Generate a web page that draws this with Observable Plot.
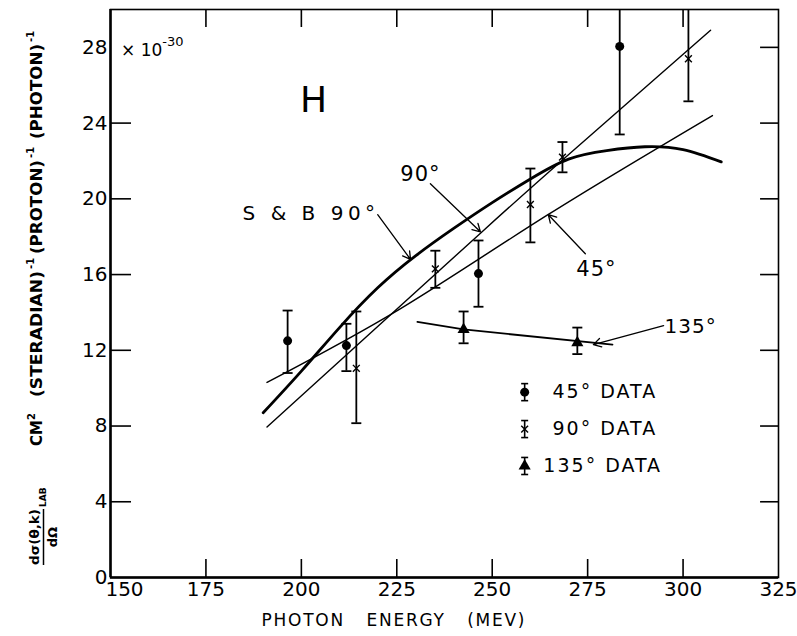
<!DOCTYPE html>
<html><head><meta charset="utf-8">
<script src="https://cdn.jsdelivr.net/npm/d3@7"></script>
<script src="https://cdn.jsdelivr.net/npm/@observablehq/plot@0.6"></script>
<style>body{margin:0;background:#fff}</style>
</head><body><div id="chart"></div>
<script>
// axis ticks
const xTicks = [175, 200, 225, 250, 275, 300, 325];
const xFirstTick = [150];
const xInnerTicks = [175, 200, 225, 250, 275, 300];
const yTicks = [0, 4, 8, 12, 16, 20, 24, 28];
const yLeftTicks = [4, 8, 12, 16, 20, 24];
const yRightTicks = [4, 8, 12, 16, 20, 24, 28];

// data points (photon energy MeV, cross section x1e-30)
const e45 = [196.4, 211.8, 246.4, 283.4];
const v45 = [12.5, 12.25, 16.05, 28.05];
const lo45 = [10.8, 10.9, 14.3, 23.4];
const hi45 = [14.1, 13.4, 17.8, 31];

const e90 = [214.4, 235.1, 260.0, 268.4, 301.4];
const v90 = [11.05, 16.3, 19.7, 22.2, 27.4];
const lo90 = [8.15, 15.3, 17.7, 21.4, 25.15];
const hi90 = [14.05, 17.26, 21.6, 23.0, 31];

const e135 = [242.5, 272.3];
const v135 = [13.1, 12.4];
const lo135 = [12.37, 11.8];
const hi135 = [14.05, 13.2];

// curves
const sbE = [190, 200, 210, 220, 230, 240, 250, 260, 270, 280, 290, 300, 310];
const sbV = [8.7, 10.9, 13.2, 15.3, 17.0, 18.45, 19.8, 21.05, 22.1, 22.55, 22.75, 22.6, 21.95];
const c90E = [191, 247, 268.4, 307.2];
const c90V = [7.95, 18.2, 22.05, 28.9];
const c45E = [191, 226, 264.5, 307.7];
const c45V = [10.3, 14.2, 19.15, 24.4];
const c135E = [230.4, 242.5, 281.5];
const c135V = [13.5, 13.1, 12.3];

// annotations
const labelText = ["H", "S & B 90°", "90°", "45°", "135°"];
const labelX = [203.2, 184.6, 231.2, 277.3, 302];
const labelY = [25.2, 19.2, 21.3, 16.3, 13.26];
const labelSize = [36, 20, 21, 21, 20];
const labelAnchor = ["middle", "start", "middle", "middle", "middle"];

const arrX1 = [220.0, 233.8, 274.4, 294.9];
const arrY1 = [19.16, 20.8, 17.1, 13.3];
const arrX2 = [228.6, 246.9, 264.7, 276.5];
const arrY2 = [16.8, 18.26, 19.16, 12.3];

// legend
const legText = ["45° DATA", "90° DATA", "135° DATA"];
const legSym = ["circle", "times", "triangle"];
const legX = 258.5;
const legTextX = [265.8, 265.8, 263.4];
const legY = [9.79, 7.84, 5.89];

const pts = (E, V, L, H, s) => E.map((e, i) => ({e, v: V[i], lo: L[i], hi: H[i], s}));
const points = [...pts(e45, v45, lo45, hi45, "circle"), ...pts(e90, v90, lo90, hi90, "times"), ...pts(e135, v135, lo135, hi135, "triangle")];
const legend = legText.map((t, i) => ({t, s: legSym[i], x: legX, tx: legTextX[i], y: legY[i], lo: legY[i] - 0.45, hi: legY[i] + 0.45}));
const curve = (E, V) => E.map((e, i) => ({e, v: V[i]}));
const labels = labelText.map((t, i) => ({t, x: labelX[i], y: labelY[i], size: labelSize[i], a: labelAnchor[i]}));
const arrows = arrX1.map((x1, i) => ({x1, y1: arrY1[i], x2: arrX2[i], y2: arrY2[i]}));

const cap = {draw(ctx, size) { ctx.moveTo(-5, 0); ctx.lineTo(5, 0); }};
const capSmall = {draw(ctx, size) { ctx.moveTo(-3.5, 0); ctx.lineTo(3.5, 0); }};

const svg = Plot.plot({
  width: 797, height: 636,
  marginLeft: 110, marginRight: 19, marginTop: 9, marginBottom: 59,
  style: {fontFamily: "DejaVu Sans", background: "white", color: "black"},
  x: {domain: [150, 325]},
  y: {domain: [0, 30]},
  marks: [
    Plot.frame({strokeWidth: 1.6}),
    Plot.ruleX([150], {strokeWidth: 2.5}),
    Plot.ruleY([0], {strokeWidth: 2.5}),
    Plot.ruleX(xInnerTicks, {x: d => d, y1: 0, y2: 0.95, strokeWidth: 1.6}),
    Plot.ruleX(xInnerTicks, {x: d => d, y1: 30, y2: 29.05, strokeWidth: 1.6}),
    Plot.ruleY(yLeftTicks, {y: d => d, x1: 150, x2: 155.5, strokeWidth: 1.6}),
    Plot.ruleY(yRightTicks, {y: d => d, x1: 325, x2: 320.3, strokeWidth: 1.6}),
    Plot.axisX({ticks: xTicks, tickSize: 0, tickPadding: 4, fontSize: 20, tickFormat: d => String(d)}),
    Plot.axisX({ticks: xFirstTick, tickSize: 0, tickPadding: 4, fontSize: 20, dx: 14, tickFormat: d => String(d)}),
    Plot.axisY({ticks: yTicks, tickSize: 0, tickPadding: 3, fontSize: 20, tickFormat: d => String(d)}),
    // curves
    Plot.line(curve(sbE, sbV), {x: "e", y: "v", curve: "natural", strokeWidth: 2.8}),
    Plot.line(curve(c90E, c90V), {x: "e", y: "v", curve: "natural", strokeWidth: 1.4}),
    Plot.line(curve(c45E, c45V), {x: "e", y: "v", curve: "natural", strokeWidth: 1.4}),
    Plot.line(curve(c135E, c135V), {x: "e", y: "v", curve: "linear", strokeWidth: 1.8}),
    // error bars
    Plot.ruleX(points, {x: "e", y1: "lo", y2: "hi", strokeWidth: 1.8, clip: true}),
    Plot.dot(points, {x: "e", y: "hi", symbol: cap, stroke: "black", strokeWidth: 1.8, clip: true}),
    Plot.dot(points, {x: "e", y: "lo", symbol: cap, stroke: "black", strokeWidth: 1.8, clip: true}),
    Plot.dot(points.filter(d => d.s === "circle"), {x: "e", y: "v", r: 4.5, fill: "black", symbol: "circle"}),
    Plot.dot(points.filter(d => d.s === "times"), {x: "e", y: "v", r: 3.2, stroke: "black", strokeWidth: 1.4, symbol: "times"}),
    Plot.dot(points.filter(d => d.s === "triangle"), {x: "e", y: "v", r: 4.5, fill: "black", symbol: "triangle"}),
    // annotations
    Plot.arrow(arrows, {x1: "x1", y1: "y1", x2: "x2", y2: "y2", headLength: 10, strokeWidth: 1.3}),
    Plot.text(labels.filter(d => d.a === "middle"), {x: "x", y: "y", text: "t", fontSize: d => d.size, textAnchor: "middle"}),
    Plot.text(labels.filter(d => d.a === "start"), {x: "x", y: "y", text: "t", fontSize: d => d.size, textAnchor: "start"}),
    // legend
    Plot.ruleX(legend, {x: "x", y1: "lo", y2: "hi", strokeWidth: 1.6}),
    Plot.dot(legend, {x: "x", y: "hi", symbol: capSmall, stroke: "black", strokeWidth: 1.6}),
    Plot.dot(legend, {x: "x", y: "lo", symbol: capSmall, stroke: "black", strokeWidth: 1.6}),
    Plot.dot(legend.filter(d => d.s === "circle"), {x: "x", y: "y", r: 4.5, fill: "black", symbol: "circle"}),
    Plot.dot(legend.filter(d => d.s === "times"), {x: "x", y: "y", r: 3.2, stroke: "black", strokeWidth: 1.4, symbol: "times"}),
    Plot.dot(legend.filter(d => d.s === "triangle"), {x: "x", y: "y", r: 4.5, fill: "black", symbol: "triangle"}),
    Plot.text(legend, {x: "tx", y: "y", text: "t", fontSize: 19, textAnchor: "start"})
  ]
});
document.getElementById("chart").appendChild(svg);

const s = d3.select(svg);
s.selectAll("text").filter(function(){ return this.textContent.includes("DATA"); }).attr("letter-spacing", "2");
s.selectAll("text").filter(function(){ return this.textContent.includes("S & B"); }).attr("letter-spacing", "4.5");
s.selectAll("text").filter(function(){ const t = this.textContent; return t === "90°" || t === "45°" || t === "135°"; }).attr("letter-spacing", "1");

// exponent note
const ex = s.append("text").attr("x", 121).attr("y", 56).attr("text-anchor", "start")
  .attr("font-family", "DejaVu Sans").attr("font-size", 17).attr("fill", "black");
ex.append("tspan").text("× 10");
ex.append("tspan").attr("dy", -10).attr("font-size", 13).text("-30");

// rotated y-axis label
const g = s.append("g").attr("transform", "translate(42,577) rotate(-90)")
  .attr("font-family", "DejaVu Sans").attr("font-weight", "bold").attr("fill", "black").attr("text-anchor", "start");
g.append("text").attr("x", 12).attr("y", -3).attr("font-size", 13).attr("textLength", 56).attr("lengthAdjust", "spacingAndGlyphs").text("dσ(θ,k)");
g.append("line").attr("x1", 12).attr("x2", 68).attr("y1", 1.5).attr("y2", 1.5).attr("stroke", "black").attr("stroke-width", 1.5);
g.append("text").attr("x", 40).attr("y", 15).attr("font-size", 13).attr("text-anchor", "middle").text("dΩ");
g.append("text").attr("x", 70).attr("y", 4).attr("font-size", 9).text("LAB");
g.append("text").attr("x", 131).attr("y", 0).attr("font-size", 15).text("CM");
g.append("text").attr("x", 157).attr("y", -7).attr("font-size", 10).text("2");
const parts = [["(STERADIAN)", 180, 126], ["(PROTON)", 323, 94], ["(PHOTON)", 438, 95]];
for (const [t, u, len] of parts) {
  g.append("text").attr("x", u).attr("y", 0).attr("font-size", 15)
    .attr("textLength", len).attr("lengthAdjust", "spacingAndGlyphs").text(t);
  g.append("text").attr("x", u + len + 2).attr("y", -8).attr("font-size", 10).text("-1");
}
// x-axis label
s.append("text").attr("x", 393).attr("y", 626).attr("text-anchor", "middle")
  .attr("font-family", "DejaVu Sans").attr("font-size", 17).attr("fill", "black")
  .attr("textLength", 263).attr("lengthAdjust", "spacing").text("PHOTON   ENERGY   (MEV)");
</script>
</body></html>
